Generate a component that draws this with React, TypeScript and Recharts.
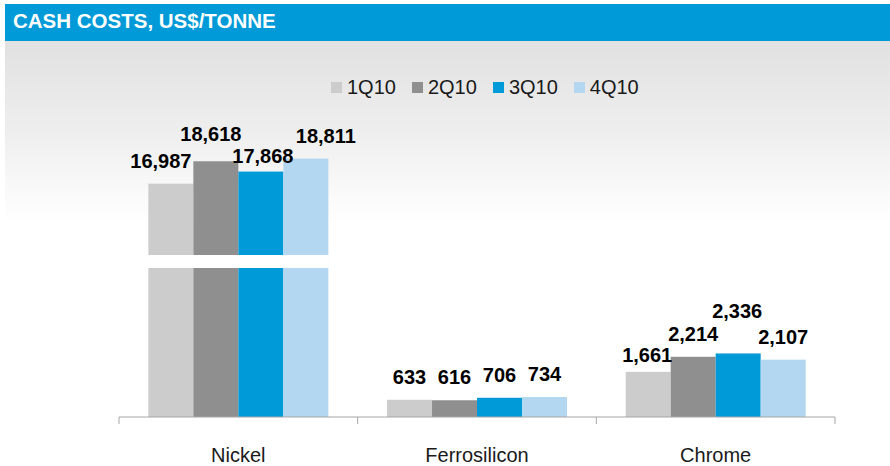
import { BarChart, Bar, XAxis, YAxis, LabelList } from "recharts";

const categories = ["Nickel", "Ferrosilicon", "Chrome"];
const seriesNames = ["1Q10", "2Q10", "3Q10", "4Q10"];
const q1 = [16987, 633, 1661];
const q2 = [18618, 616, 2214];
const q3 = [17868, 706, 2336];
const q4 = [18811, 734, 2107];
const seriesValues = [q1, q2, q3, q4];
const colors = ["#cccccc", "#8f8f8f", "#009ad9", "#b3d7f0"];

// Nickel is drawn on a broken axis: its bars are compressed and cut
const compression: Record<string, number> = { Nickel: 0.505 };
const BREAK_LO = 5478;
const BREAK_HI = 5956;

// hand placed labels in the original slide
const labelNudge: Record<string, [number, number]> = {
  "Nickel-0": [-10, 0],
  "Nickel-1": [-5, -4],
  "Nickel-2": [2, 7],
  "Nickel-3": [20, 0],
  "Chrome-0": [-1, 6],
  "Chrome-2": [-1, -19],
};

const keys = seriesNames.map((_, i) => `s${i}`);

const chartData = categories.map((cat, ci) => {
  const row: Record<string, string | number> = { name: cat };
  seriesValues.forEach((vals, si) => {
    const k = compression[cat] ?? 1;
    row[`s${si}`] = vals[ci] * k;
    row[`raw${si}`] = vals[ci];
  });
  return row;
});

const FONT = '"Liberation Sans", Arial, sans-serif';
const PLOT_LEFT = 119;
const PLOT_RIGHT = 835;
const BAND = (PLOT_RIGHT - PLOT_LEFT) / categories.length;

const BrokenBar = (props: any) => {
  const { x, y, width, height, fill, value } = props;
  const v = Array.isArray(value) ? value[1] : value;
  const els = [<rect key="b" x={x} y={y} width={width} height={height} fill={fill} />];
  if (v > BREAK_HI && height > 0) {
    const perUnit = height / v;
    const base = y + height;
    const gTop = base - BREAK_HI * perUnit;
    const gBot = base - BREAK_LO * perUnit;
    els.push(<rect key="g" x={x - 0.5} y={gTop} width={width + 1} height={gBot - gTop} fill="#ffffff" />);
  }
  return <g>{els}</g>;
};

const makeLabel = (si: number) => (props: any) => {
  const { x, y, width, value, index } = props;
  const cat = categories[index];
  const [dx, dy] = labelNudge[`${cat}-${si}`] ?? [0, 0];
  return (
    <text
      x={x + width / 2 + dx}
      y={y - 16 + dy}
      textAnchor="middle"
      fontFamily={FONT}
      fontWeight="bold"
      fontSize={20}
      fill="#000"
    >
      {Number(value).toLocaleString("en-US")}
    </text>
  );
};

const CategoryTick = (props: any) => {
  const { x, y, payload, index } = props;
  return (
    <g>
      <line x1={x - BAND / 2} x2={x - BAND / 2} y1={y} y2={y + 7} stroke="#a6a6a6" strokeWidth={1} />
      {index === categories.length - 1 && (
        <line x1={x + BAND / 2} x2={x + BAND / 2} y1={y} y2={y + 7} stroke="#a6a6a6" strokeWidth={1} />
      )}
      <text x={x} y={y + 45} textAnchor="middle" fontFamily={FONT} fontSize={20} fill="#1a1a1a">
        {payload.value}
      </text>
    </g>
  );
};

export default function App() {
  return (
    <div
      style={{
        position: "absolute",
        left: 0,
        top: 0,
        width: 890,
        height: 466,
        background: "#ffffff",
        fontFamily: FONT,
        overflow: "hidden",
      }}
    >
      <div
        style={{
          position: "absolute",
          left: 5,
          top: 41,
          width: 885,
          height: 180,
          background: "linear-gradient(to bottom, #e1e1e1 0%, #eeeeee 50%, #ffffff 100%)",
        }}
      />
      <div
        style={{
          position: "absolute",
          left: 5,
          top: 4,
          width: 885,
          height: 37,
          background: "#009ad9",
        }}
      >
        <div
          style={{
            position: "absolute",
            left: 8,
            top: 5,
            color: "#ffffff",
            fontWeight: "bold",
            fontSize: 20.5,
            lineHeight: "24px",
            whiteSpace: "nowrap",
          }}
        >
          CASH COSTS, US$/TONNE
        </div>
      </div>

      <div
        style={{
          position: "absolute",
          left: 331,
          top: 76,
          display: "flex",
          alignItems: "center",
          gap: 16,
        }}
      >
        {seriesNames.map((s, i) => (
          <div key={s} style={{ display: "flex", alignItems: "center" }}>
            <div style={{ width: 11, height: 11, background: colors[i], marginRight: 5 }} />
            <span style={{ fontSize: 20, color: "#1a1a1a", lineHeight: "23px" }}>{s}</span>
          </div>
        ))}
      </div>

      <div style={{ position: "absolute", left: 0, top: 0 }}>
        <BarChart
          width={890}
          height={466}
          data={chartData}
          margin={{ top: 145, right: 890 - PLOT_RIGHT, bottom: 4, left: PLOT_LEFT }}
          barCategoryGap="12.3%"
          barGap={0}
        >
          <XAxis
            dataKey="name"
            height={45}
            axisLine={{ stroke: "#a6a6a6", strokeWidth: 1 }}
            tickLine={false}
            tickSize={0}
            tickMargin={0}
            interval={0}
            tick={<CategoryTick />}
          />
          <YAxis hide domain={[0, 10000]} />
          {keys.map((k, si) => (
            <Bar
              key={k}
              dataKey={k}
              fill={colors[si]}
              isAnimationActive={false}
              shape={<BrokenBar />}
            >
              <LabelList dataKey={`raw${si}`} content={makeLabel(si)} />
            </Bar>
          ))}
        </BarChart>
      </div>
    </div>
  );
}
